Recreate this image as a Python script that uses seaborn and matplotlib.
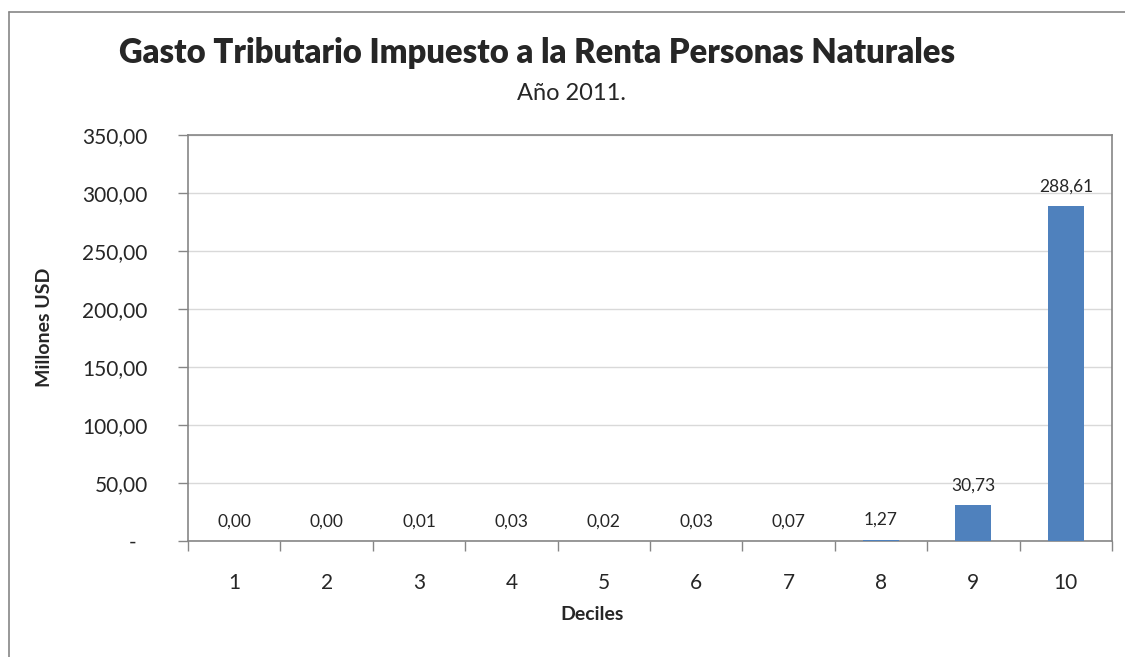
import matplotlib
matplotlib.use("Agg")
import matplotlib.pyplot as plt
import seaborn as sns
import pandas as pd
from matplotlib.lines import Line2D

deciles = ["1", "2", "3", "4", "5", "6", "7", "8", "9", "10"]
gasto = [0.00, 0.00, 0.01, 0.03, 0.02, 0.03, 0.07, 1.27, 30.73, 288.61]
yticks = [0, 50, 100, 150, 200, 250, 300, 350]

df = pd.DataFrame({"Deciles": deciles, "Gasto": gasto})

sns.set_style("white")
plt.rcParams["font.family"] = ["Lato", "DejaVu Sans"]

fig = plt.figure(figsize=(11.25, 6.57), dpi=100)
ax = fig.add_axes([188 / 1125, 1 - 541 / 657, (1112 - 188) / 1125, (541 - 135) / 657])

sns.barplot(data=df, x="Deciles", y="Gasto", color="#4F81BD", width=0.39,
            saturation=1, linewidth=0, edgecolor="none", ax=ax, zorder=3)

ax.set_ylim(0, 350)
ax.set_xlim(-0.5, 9.5)
ax.set_yticks(yticks)
fmt = lambda v: "-  " if v == 0 else f"{v:,.2f}".replace(",", "X").replace(".", ",").replace("X", ".")
ax.set_yticklabels([fmt(v) for v in yticks], fontsize=15)
ax.yaxis.grid(True, color="#D9D9D9", linewidth=1, zorder=0)
ax.tick_params(axis="y", length=7, width=1, color="#868686", pad=22, left=True)
ax.tick_params(axis="x", which="major", length=0, pad=23, labelsize=15)
ax.set_xticks([i + 0.5 for i in range(-1, 10)], minor=True)
ax.tick_params(axis="x", which="minor", length=7, width=1, color="#868686", bottom=True)

for s in ax.spines.values():
    s.set_color("#868686")
    s.set_linewidth(1.2)

for i, v in enumerate(gasto):
    lab = f"{v:.2f}".replace(".", ",")
    ax.annotate(lab, (i, v), xytext=(0, 14), textcoords="offset points",
                ha="center", va="center", fontsize=12.5)

ax.set_xlabel("Deciles", fontsize=14, fontweight="bold")
ax.set_ylabel("Millones USD", fontsize=14, fontweight="bold")
ax.xaxis.set_label_coords(0.437, -0.16)
ax.yaxis.set_label_coords(-0.146, 0.527)

fig.text(0.477, 1 - 53 / 657, "Gasto Tributario Impuesto a la Renta Personas Naturales",
         ha="center", va="center", fontsize=23.6, fontweight="heavy")
fig.text(0.508, 1 - 93 / 657, "Año 2011.", ha="center", va="center", fontsize=17)

# chart area border
fig.add_artist(Line2D([9 / 1125, 9 / 1125], [0, 1 - 12 / 657], color="#868686", lw=1.2))
fig.add_artist(Line2D([9 / 1125, 1], [1 - 12 / 657, 1 - 12 / 657], color="#868686", lw=1.2))

fig.savefig("out.png", dpi=100)
